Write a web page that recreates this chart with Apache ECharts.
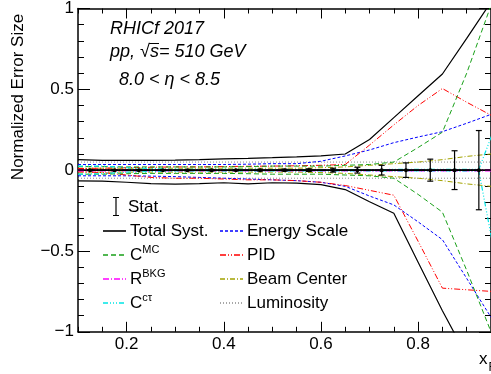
<!DOCTYPE html>
<html><head><meta charset="utf-8">
<script src="https://cdn.jsdelivr.net/npm/echarts@6/dist/echarts.min.js"></script>
<style>html,body{margin:0;padding:0;background:#fff}#c{width:491px;height:374px}</style>
</head><body><div id="c"></div>
<script>
// ---- data ----
const xs = [0.1,0.15,0.2,0.25,0.3,0.35,0.4,0.45,0.5,0.55,0.6,0.65,0.7,0.75,0.8,0.85,0.9,0.95];
const totalUp = [0.065,0.06,0.06,0.06,0.062,0.065,0.07,0.073,0.077,0.082,0.088,0.1,0.19,0.325,0.46,0.595,0.815,1.04];
const totalDn = [-0.066,-0.068,-0.075,-0.083,-0.087,-0.083,-0.078,-0.085,-0.078,-0.08,-0.09,-0.12,-0.195,-0.267,-0.57,-0.87,-1.15,-1.42];
const mcUp = [0.022,0.022,0.02,0.02,0.02,0.02,0.02,0.022,0.025,0.025,0.025,0.03,0.035,0.05,0.14,0.235,0.6,1.02];
const mcDn = [-0.025,-0.025,-0.022,-0.02,-0.02,-0.02,-0.02,-0.022,-0.025,-0.025,-0.025,-0.03,-0.035,-0.05,-0.15,-0.26,-0.62,-1.0];
const bkgUp = [0.004,0.004,0.004,0.004,0.004,0.004,0.004,0.004,0.004,0.004,0.004,0.004,0.004,0.004,0.004,0.004,0.004,0.004];
const bkgDn = [-0.004,-0.004,-0.004,-0.004,-0.004,-0.004,-0.004,-0.004,-0.004,-0.004,-0.004,-0.004,-0.004,-0.004,-0.004,-0.004,-0.004,-0.004];
const cctX  = [0.1,0.15,0.2,0.3,0.5,0.7,0.925,0.975];
const cctUp = [0.025,0.025,0.015,0.005,0.004,0.004,0.005,0.4];
const cctDn = [-0.025,-0.022,-0.012,-0.005,-0.004,-0.004,-0.005,-0.8];
const escUp = [0.035,0.035,0.035,0.035,0.035,0.035,0.035,0.037,0.04,0.04,0.055,0.088,0.125,0.17,0.205,0.238,0.29,0.345];
const escDn = [-0.035,-0.035,-0.035,-0.037,-0.04,-0.045,-0.05,-0.055,-0.06,-0.065,-0.075,-0.1,-0.16,-0.215,-0.32,-0.43,-0.67,-0.91];
const pidUp = [0.01,0.012,0.015,0.018,0.02,0.02,0.022,0.024,0.025,0.027,0.03,0.035,0.155,0.28,0.4,0.505,0.42,0.34];
const pidDn = [-0.01,-0.015,-0.03,-0.045,-0.05,-0.05,-0.055,-0.06,-0.06,-0.065,-0.075,-0.095,-0.125,-0.155,-0.44,-0.73,-0.74,-0.75];
const beamUp = [0.012,0.012,0.012,0.012,0.012,0.012,0.012,0.012,0.012,0.012,0.015,0.02,0.03,0.04,0.05,0.065,0.085,0.1];
const beamDn = [-0.012,-0.012,-0.012,-0.012,-0.012,-0.012,-0.012,-0.012,-0.012,-0.012,-0.015,-0.02,-0.03,-0.04,-0.05,-0.065,-0.085,-0.1];
const lumiUp = [0.05,0.05,0.05,0.05,0.05,0.05,0.05,0.05,0.05,0.05,0.05,0.05,0.05,0.05,0.05,0.05,0.05,0.05];
const lumiDn = [-0.05,-0.05,-0.05,-0.05,-0.05,-0.05,-0.05,-0.05,-0.05,-0.05,-0.05,-0.05,-0.05,-0.05,-0.05,-0.05,-0.05,-0.05];
const statX = [0.125,0.175,0.225,0.275,0.325,0.375,0.425,0.475,0.525,0.575,0.625,0.675,0.725,0.775,0.825,0.875,0.925];
const statY = [0,0,0,0,0,0,0,0,0,0,0,0,0,0,0,0,0];
const statErr = [0.003,0.003,0.003,0.003,0.003,0.004,0.004,0.005,0.006,0.008,0.012,0.018,0.03,0.045,0.068,0.12,0.245];
const xMajor = [0.2,0.4,0.6,0.8];
const xMinor = [0.1,0.15,0.25,0.3,0.35,0.45,0.5,0.55,0.65,0.7,0.75,0.85,0.9,0.95];
const legendLeft = ['Total Syst.','C^MC','R^BKG','C^cτ'];
const legendRight = ['Energy Scale','PID','Beam Center','Luminosity'];

const FONT = "'Liberation Sans', Arial, sans-serif";
const pair = (x, y) => x.map((v, i) => [v, y[i]]);

// line styles: [color, dash, width]
const styles = {
  'Luminosity':   ['#8a8a8a', [1, 2], 1],
  'Beam Center':  ['#a3a300', [5, 2, 1, 2], 1],
  'Energy Scale': ['#0000ff', [3, 2], 1],
  'PID':          ['#ff0000', [6, 2, 1, 2, 1, 2], 1],
  'C^MC':         ['#19a019', [5, 3], 1],
  'Total Syst.':  ['#000000', 'solid', 1.2],
  'R^BKG':        ['#ff00ff', [6, 2, 1, 2], 1.2],
  'C^cτ':         ['#00e5e5', [5, 2, 1, 2, 1, 2, 1, 2], 1.2]
};

function lineSeries(name, x, y) {
  const s = styles[name];
  return {
    type: 'line', name: name, data: pair(x, y), symbol: 'none', silent: true,
    lineStyle: { color: s[0], width: s[2], type: s[1] },
    itemStyle: { color: s[0] }, z: 2
  };
}

const chart = echarts.init(document.getElementById('c'), null, { renderer: 'canvas' });

const series = [];
[['Luminosity', xs, lumiUp, lumiDn], ['Beam Center', xs, beamUp, beamDn], ['Energy Scale', xs, escUp, escDn],
 ['PID', xs, pidUp, pidDn], ['C^MC', xs, mcUp, mcDn], ['Total Syst.', xs, totalUp, totalDn]].forEach(function (d) {
  series.push(lineSeries(d[0], d[1], d[2]));
  series.push(lineSeries(d[0], d[1], d[3]));
});
// stat central line + markers
series.push({
  type: 'line', name: 'statLine', data: pair(statX, statY), symbol: 'circle', symbolSize: 4,
  lineStyle: { color: '#000', width: 1.5 }, itemStyle: { color: '#000' }, z: 3, silent: true,
  markLine: { silent: true, symbol: 'none', label: { show: false },
    lineStyle: { color: '#000', width: 1.5, type: 'solid' }, data: [{ yAxis: 0 }] }
});
// stat error bars
series.push({
  type: 'custom', name: 'Stat.', z: 4, silent: true,
  data: statX.map((v, i) => [v, statY[i], statErr[i]]),
  itemStyle: { color: '#000' },
  renderItem: function (params, api) {
    const x = api.value(0), y = api.value(1), e = api.value(2);
    const a = api.coord([x, y + e]), b = api.coord([x, y - e]);
    const st = { stroke: '#000', lineWidth: 1.2 };
    return { type: 'group', children: [
      { type: 'line', shape: { x1: a[0], y1: a[1], x2: b[0], y2: b[1] }, style: st },
      { type: 'line', shape: { x1: a[0] - 3, y1: a[1], x2: a[0] + 3, y2: a[1] }, style: st },
      { type: 'line', shape: { x1: b[0] - 3, y1: b[1], x2: b[0] + 3, y2: b[1] }, style: st }
    ] };
  }
});
series.push(lineSeries('R^BKG', xs, bkgUp));
series.push(lineSeries('R^BKG', xs, bkgDn));
series.push(lineSeries('C^cτ', cctX, cctUp));
series.push(lineSeries('C^cτ', cctX, cctDn));

const legendRich = {
  b: { fontSize: 17, fontFamily: FONT, fill: '#000', lineHeight: 22 },
  sup: { fontSize: 11, fontFamily: FONT, fill: '#000', lineHeight: 12, verticalAlign: 'top' }
};
function legendFmt(name) {
  const m = name.split('^');
  if (m.length === 2) return '{b|' + m[0] + '}{sup|' + m[1] + '}';
  return '{b|' + name + '}';
}

const axisLineStyle = { color: '#000', width: 1.5 };
function xAx(pos, vals, len, labels, line) {
  return {
    type: 'value', position: pos, min: 0.1, max: 0.95, gridIndex: 0,
    axisLine: { show: line, onZero: false, lineStyle: axisLineStyle },
    axisTick: { show: true, inside: true, length: len, customValues: vals, lineStyle: { color: '#000', width: 1 } },
    axisLabel: { show: labels, customValues: xMajor, formatter: v => v.toFixed(1), fontSize: 17, fontFamily: FONT, color: '#000', margin: 4 },
    splitLine: { show: false }
  };
}
function yAx(pos, labels) {
  return {
    type: 'value', position: pos, min: -1, max: 1, interval: 0.5,
    axisLine: { show: true, onZero: false, lineStyle: axisLineStyle },
    axisTick: { show: true, inside: true, length: 12, lineStyle: { color: '#000', width: 1 } },
    minorTick: { show: true, splitNumber: 5, length: 6, lineStyle: { color: '#000', width: 1 } },
    axisLabel: { show: labels, fontSize: 17, fontFamily: FONT, color: '#000', margin: 4,
      formatter: v => (v < 0 ? '\u2212' : '') + String(Math.abs(v)) },
    splitLine: { show: false }, minorSplitLine: { show: false }
  };
}

// legend drawn as graphic elements: a line sample + label per row
const legendGraphics = [];
function addRows(names, x0, yFirst) {
  names.forEach(function (n, i) {
    const s = styles[n], y = yFirst + 24 * i;
    legendGraphics.push({ type: 'line', z: 100, shape: { x1: x0, y1: y, x2: x0 + 23, y2: y },
      style: { stroke: s[0], lineWidth: 1.6, lineDash: s[1] === 'solid' ? null : s[1] } });
    legendGraphics.push({ type: 'text', z: 100, x: x0 + 27, y: y + 0.5,
      style: { text: legendFmt(n), rich: legendRich, font: '17px ' + FONT, fill: '#000', align: 'left', verticalAlign: 'middle' } });
  });
}
addRows(legendLeft, 103, 231);
addRows(legendRight, 220, 231);
// Stat. key: an error-bar glyph
legendGraphics.push(
  { type: 'line', z: 100, shape: { x1: 116, y1: 197, x2: 116, y2: 216 }, style: { stroke: '#000', lineWidth: 1.2 } },
  { type: 'line', z: 100, shape: { x1: 113, y1: 197.5, x2: 119, y2: 197.5 }, style: { stroke: '#000', lineWidth: 1 } },
  { type: 'line', z: 100, shape: { x1: 113, y1: 215.5, x2: 119, y2: 215.5 }, style: { stroke: '#000', lineWidth: 1 } },
  { type: 'text', z: 100, x: 128, y: 207, style: { text: 'Stat.', font: '17px ' + FONT, fill: '#000', align: 'left', verticalAlign: 'middle' } }
);

chart.setOption({
  animation: false,
  backgroundColor: '#fff',
  grid: { left: 78, top: 7.3, width: 415.7, height: 324.5, containLabel: false },
  xAxis: [xAx('bottom', xMajor, 10, true, true), xAx('bottom', xMinor, 5, false, false),
          xAx('top', xMajor, 10, false, true), xAx('top', xMinor, 5, false, false)],
  yAxis: [yAx('left', true), yAx('right', false)],
  graphic: [
    { type: 'text', x: 18, y: 97, rotation: Math.PI / 2,
      style: { text: 'Normalized Error Size', font: '17px ' + FONT, fill: '#000', align: 'center', verticalAlign: 'middle' } },
    { type: 'text', x: 479, y: 359.5, style: { text: 'x', font: '17px ' + FONT, fill: '#000', align: 'left', verticalAlign: 'middle' } },
    { type: 'text', x: 488.5, y: 368, style: { text: 'F', font: '12px ' + FONT, fill: '#000', align: 'left', verticalAlign: 'middle' } },
    { type: 'text', x: 110, y: 28.5, style: { text: 'RHICf 2017', font: 'italic 18px ' + FONT, fill: '#000', align: 'left', verticalAlign: 'middle' } },
    { type: 'text', x: 110, y: 51.5, style: { text: 'pp, \u221As= 510 GeV', font: 'italic 18px ' + FONT, fill: '#000', align: 'left', verticalAlign: 'middle' } },
    { type: 'line', shape: { x1: 149, y1: 43.5, x2: 159, y2: 43.5 }, style: { stroke: '#000', lineWidth: 1 } },
    { type: 'text', x: 119, y: 79.5, style: { text: '8.0 < \u03B7 < 8.5', font: 'italic 18px ' + FONT, fill: '#000', align: 'left', verticalAlign: 'middle' } }
  ].concat(legendGraphics),
  series: series
});
</script></body></html>
